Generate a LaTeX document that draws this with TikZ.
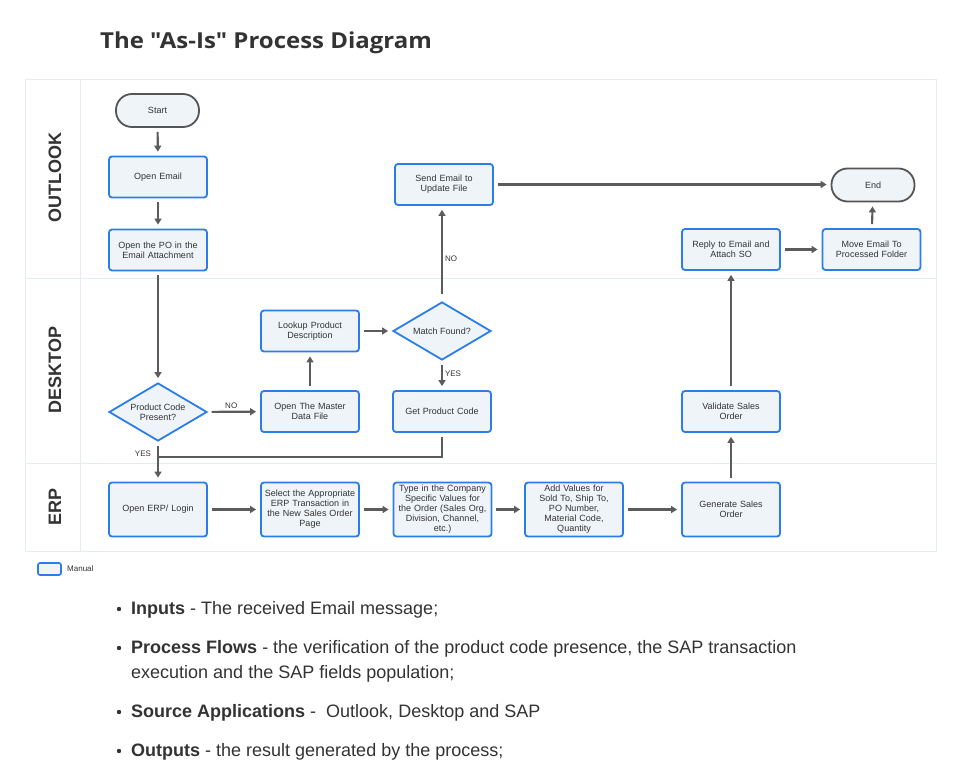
\documentclass[tikz,border=0pt]{standalone}
\usepackage{fontspec}
\setmainfont{Liberation Sans}
\newfontfamily\titlefont{Open Sans}
\newfontfamily\bodyfont{Liberation Sans}
\usetikzlibrary{shapes.geometric,arrows.meta}
\definecolor{boxblue}{HTML}{2B7DE9}
\definecolor{boxfill}{HTML}{EFF4F8}
\definecolor{termgray}{HTML}{555555}
\definecolor{arr}{HTML}{5C5C5C}
\definecolor{txt}{HTML}{333333}
\definecolor{lane}{HTML}{E6EDF1}
\begin{document}
\begin{tikzpicture}[x=1pt,y=-1pt,
  nfont/.style={font=\fontsize{9}{10}\selectfont, text=txt},
  proc/.style={nfont, draw=boxblue, fill=boxfill, line width=1.8pt, rounded corners=3pt,
    minimum width=98pt, minimum height=41pt, inner sep=1pt, text width=94pt, align=center},
  erpbox/.style={proc, minimum height=54pt},
  term/.style={nfont, draw=termgray, fill=boxfill, line width=1.8pt, rounded corners=16pt,
    minimum width=83pt, minimum height=33pt, inner sep=1pt},
  dec/.style={nfont, diamond, draw=boxblue, fill=boxfill, line width=1.8pt, aspect=1.7,
    minimum width=98pt, minimum height=58pt, inner sep=0pt, align=center},
  flow/.style={draw=arr, line width=2.1pt, -{Triangle[length=6pt,width=7pt]},
    shorten >=4pt, shorten <=4pt},
  flowline/.style={draw=arr, line width=2.1pt, shorten <=4pt},
  lbl/.style={font=\fontsize{8}{9}\selectfont, text=txt, inner sep=2pt},
  lanelbl/.style={font=\fontsize{18}{18}\selectfont\bfseries, text=txt, rotate=90},
  bul/.style={anchor=base west, inner sep=0pt, font=\bodyfont\fontsize{18}{20}\selectfont, text=txt}
]
\useasboundingbox (0,0) rectangle (955,767);
\fill[white] (0,0) rectangle (955,767);

% title
\node[anchor=base west, inner sep=0pt, font=\titlefont\fontsize{22}{24}\selectfont\bfseries, text=txt] (title) at (100,49) {\scalebox{1.09}[1]{The "As-Is" Process Diagram}};

% lanes
\draw[lane, line width=1pt] (25,80) rectangle (936,551);
\draw[lane, line width=1pt] (25,278) -- (936,278);
\draw[lane, line width=1pt] (25,463) -- (936,463);
\draw[lane, line width=1pt] (80,80) -- (80,551);
\node[lanelbl] (l1) at (55,178) {OUTLOOK};
\node[lanelbl] (l2) at (55,370) {DESKTOP};
\node[lanelbl] (l3) at (55,507) {ERP};

% nodes
\node[term] (start) at (157.5,110.5) {Start};
\node[proc] (email) at (158,177) {Open Email};
\node[proc] (po) at (158,250) {Open the PO in the\\Email Attachment};
\node[dec] (pcp) at (158,412) {Product Code\\Present?};
\node[proc] (master) at (310,411.5) {Open The Master\\Data File};
\node[proc] (lookup) at (310,331) {Lookup Product\\Description};
\node[dec] (match) at (442,331) {Match Found?};
\node[proc] (getcode) at (442,411.5) {Get Product Code};
\node[proc] (send) at (444,184.5) {Send Email to\\Update File};
\node[term] (end) at (873,185) {End};
\node[proc] (reply) at (731,249.5) {Reply to Email and\\Attach SO};
\node[proc] (move) at (871.5,249.5) {Move Email To\\Processed Folder};
\node[proc] (validate) at (731,411.5) {Validate Sales\\Order};
\node[erpbox] (erp) at (158,509.5) {Open ERP/ Login};
\node[erpbox] (select) at (310,509.5) {Select the Appropriate\\ERP Transaction in\\the New Sales Order\\Page};
\node[erpbox] (type) at (442.5,509.5) {Type in the Company\\Specific Values for\\the Order (Sales Org,\\Division, Channel,\\etc.)};
\node[erpbox] (add) at (574,509.5) {Add Values for\\Sold To, Ship To,\\PO Number,\\Material Code,\\Quantity};
\node[erpbox] (gen) at (731,509.5) {Generate Sales\\Order};

% connectors
\draw[flow] (start) -- (email);
\draw[flow] (email) -- (po);
\draw[flow] (po) -- (pcp);
\draw[flow] (pcp) -- node[lbl, above, pos=0.45] {NO} (master);
\draw[flow] (master) -- (lookup);
\draw[flow] (lookup) -- (match);
\draw[flow] (match) -- node[lbl, right, pos=0.45] {YES} (getcode);
\draw[flow, shorten <=7pt] (match.north) -- node[lbl, right, pos=0.45] {NO} (match.north |- send.south);
\draw[flow] (send.east) -- (send.east -| end.west);
\coordinate (join) at (158,457);
\draw[flow] (pcp) -- node[lbl, left, pos=0.3, xshift=-4pt] {YES} (erp);
\draw[flowline] (getcode.south) |- (join);
\draw[flow] (erp) -- (select);
\draw[flow] (select) -- (type);
\draw[flow] (type) -- (add);
\draw[flow] (add) -- (gen);
\draw[flow] (gen) -- (validate);
\draw[flow] (validate) -- (reply);
\draw[flow] (reply) -- (move);
\draw[flow] (move) -- (end);

% legend
\draw[draw=boxblue, fill=boxfill, line width=1.6pt, rounded corners=2pt] (38,563) rectangle (61,575);
\node[anchor=west, inner sep=0pt, font=\fontsize{8}{9}\selectfont, text=txt] (manual) at (67,569) {Manual};

% bullets
\node[bul] (b1) at (131,614) {\textbf{Inputs} - The received Email message;};
\node[bul] (b2) at (131,653) {\textbf{Process Flows} - the verification of the product code presence, the SAP transaction};
\node[bul] (b2b) at (131,678) {execution and the SAP fields population;};
\node[bul] (b3) at (131,717) {\textbf{Source Applications} -\ \ Outlook, Desktop and SAP};
\node[bul] (b4) at (131,756) {\textbf{Outputs} - the result generated by the process;};
\foreach \yy in {609,648,712,751} \fill[txt] (119,\yy) circle (2.2pt);
\end{tikzpicture}
\end{document}
